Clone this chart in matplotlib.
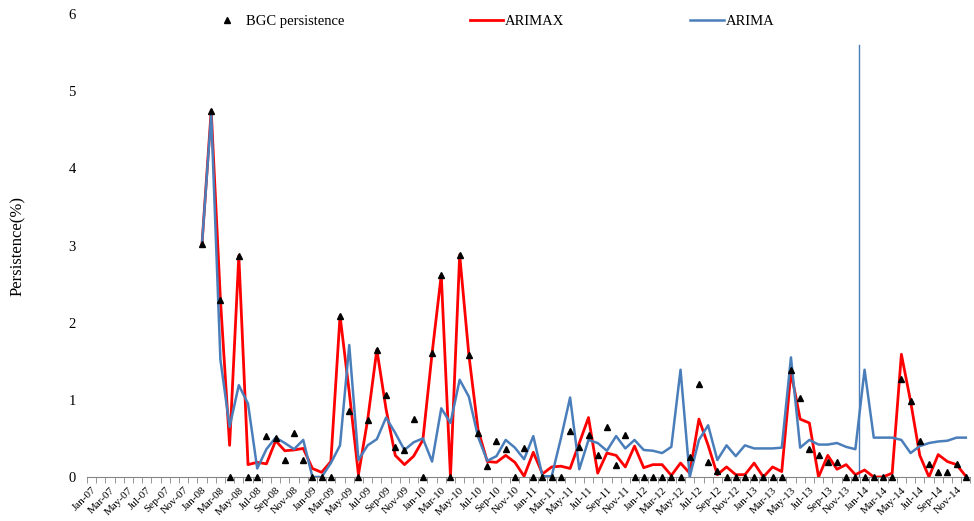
import numpy as np
import matplotlib
matplotlib.use("Agg")
import matplotlib.pyplot as plt

plt.rcParams['font.family'] = ['Liberation Serif', 'DejaVu Serif']

# monthly categories Jan-07 .. Dec-14
month_names = ['Jan', 'Feb', 'Mar', 'Apr', 'May', 'Jun',
               'Jul', 'Aug', 'Sep', 'Oct', 'Nov', 'Dec']
years = list(range(7, 15))
categories = [f"{m}-{y:02d}" for y in years for m in month_names]

# no data in 2007
blank_2007 = [np.nan] * 12

# observed BGC persistence (%), Jan-08 .. Dec-14
observed = [
    3.02, 4.75, 2.30, 0.00, 2.87, 0.00, 0.00, 0.53, 0.51, 0.22, 0.57, 0.22,
    0.00, 0.00, 0.00, 2.09, 0.85, 0.00, 0.74, 1.65, 1.06, 0.39, 0.35, 0.75,
    0.00, 1.61, 2.62, 0.00, 2.88, 1.58, 0.57, 0.14, 0.46, 0.36, 0.00, 0.38,
    0.00, 0.00, 0.00, 0.00, 0.60, 0.39, 0.55, 0.28, 0.65, 0.16, 0.55, 0.00,
    0.00, 0.00, 0.00, 0.00, 0.00, 0.26, 1.21, 0.19, 0.08, 0.00, 0.00, 0.00,
    0.00, 0.00, 0.00, 0.00, 1.39, 1.02, 0.36, 0.28, 0.20, 0.19, 0.00, 0.00,
    0.00, 0.00, 0.00, 0.00, 1.27, 0.98, 0.47, 0.17, 0.07, 0.07, 0.17, 0.00,
]

arimax = [
    3.02, 4.75, 2.30, 0.41, 2.87, 0.16, 0.19, 0.17, 0.47, 0.34, 0.35, 0.37,
    0.11, 0.06, 0.20, 2.09, 1.10, 0.03, 0.74, 1.65, 0.88, 0.28, 0.16, 0.27,
    0.48, 1.60, 2.62, 0.00, 2.88, 1.58, 0.61, 0.20, 0.19, 0.28, 0.19, 0.01,
    0.32, 0.04, 0.13, 0.14, 0.11, 0.44, 0.77, 0.05, 0.31, 0.28, 0.13, 0.40,
    0.12, 0.16, 0.16, 0.02, 0.18, 0.05, 0.75, 0.41, 0.03, 0.13, 0.03, 0.03,
    0.18, 0.00, 0.13, 0.07, 1.36, 0.75, 0.70, 0.00, 0.28, 0.10, 0.16, 0.03,
    0.09, 0.00, 0.00, 0.05, 1.59, 0.98, 0.28, 0.00, 0.29, 0.20, 0.16, 0.01,
]

arima = [
    3.02, 4.70, 1.52, 0.65, 1.19, 0.95, 0.11, 0.36, 0.51, 0.44, 0.36, 0.48,
    0.00, 0.00, 0.18, 0.41, 1.71, 0.22, 0.41, 0.49, 0.77, 0.57, 0.35, 0.45,
    0.50, 0.20, 0.89, 0.70, 1.26, 1.04, 0.52, 0.21, 0.27, 0.48, 0.38, 0.23,
    0.53, 0.01, 0.01, 0.50, 1.03, 0.10, 0.48, 0.44, 0.34, 0.53, 0.37, 0.48,
    0.35, 0.34, 0.31, 0.39, 1.39, 0.00, 0.48, 0.67, 0.22, 0.41, 0.27, 0.41,
    0.37, 0.37, 0.37, 0.38, 1.55, 0.38, 0.48, 0.42, 0.42, 0.44, 0.39, 0.36,
    1.39, 0.51, 0.51, 0.51, 0.48, 0.31, 0.40, 0.44, 0.46, 0.47, 0.51, 0.51,
]

# forecast start marker (between Dec-13 and Jan-14)
forecast_start = 83.35
forecast_line_top = 5.6

red = '#ff0000'
blue = '#4a7ebb'

x = np.arange(len(categories))
obs = np.array(blank_2007 + observed)
rx = np.array(blank_2007 + arimax)
ra = np.array(blank_2007 + arima)

fig = plt.figure(figsize=(9.74, 5.21), dpi=100)
ax = fig.add_axes([0.0893, 0.0845, 0.907, 0.8885])

ax.plot(x, rx, color=red, lw=2.0, label='ARIMAX', zorder=3)
ax.plot(x, ra, color=blue, lw=1.8, label='ARIMA', zorder=4)
ax.plot(x, obs, ls='none', marker='^', color='black', ms=4.8,
        label='BGC persistence', zorder=5, clip_on=False)
ax.plot([forecast_start, forecast_start], [0, forecast_line_top],
        color=blue, lw=1.0, zorder=2)

ax.set_xlim(-0.5, len(categories) - 0.5)
ax.set_ylim(0, 6)
ax.set_yticks(range(0, 7))
ax.tick_params(axis='y', length=0, labelsize=10.5, pad=8)

ax.set_xticks(x[::2])
ax.set_xticklabels(categories[::2], rotation=45, ha='right',
                   rotation_mode='anchor', fontsize=8)
ax.set_xticks(np.arange(-0.5, len(categories), 1), minor=True)
ax.tick_params(axis='x', which='major', length=0, pad=6)
ax.tick_params(axis='x', which='minor', length=4, color='#868686')

for s in ['top', 'right']:
    ax.spines[s].set_visible(False)
ax.spines['bottom'].set_color('#868686')
ax.spines['left'].set_visible(False)

ax.set_ylabel('Persistence(%)', fontsize=12)
ax.yaxis.set_label_coords(-0.069, 0.50)

handles, labels = ax.get_legend_handles_labels()
order = [2, 0, 1]
ax.legend([handles[i] for i in order], [labels[i] for i in order],
          ncol=3, loc='center left', bbox_to_anchor=(0.2156, 0.958),
          bbox_transform=fig.transFigure, frameon=False, fontsize=10.5,
          handlelength=2.3, handletextpad=0.15, columnspacing=8.6,
          borderpad=0, borderaxespad=0)

fig.savefig('out.png', dpi=100)
